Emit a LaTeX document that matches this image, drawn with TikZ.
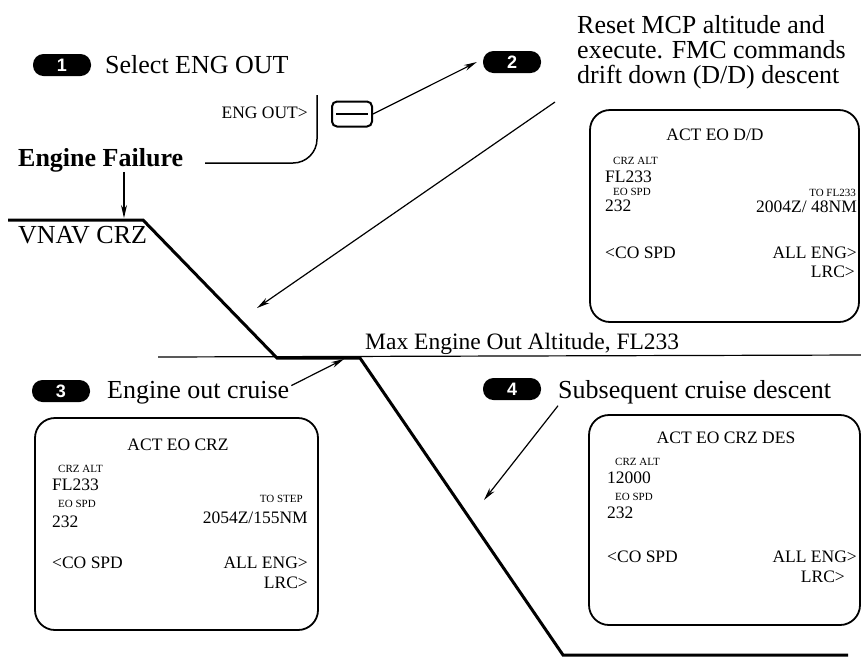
\documentclass[tikz,border=0pt]{standalone}
\usepackage{fontspec}
\setmainfont{Liberation Serif}
\newfontfamily\badgefont{Liberation Sans}
\usetikzlibrary{arrows.meta}

\tikzset{
  pill/.style={fill=black, rounded corners=10.5pt, minimum width=58pt, minimum height=22pt,
    inner sep=0pt, text=white, font=\badgefont\bfseries\fontsize{18}{18}\selectfont},
  steplabel/.style={anchor=base west, inner sep=0pt, font=\fontsize{26}{25}\selectfont},
  cdu/.style={draw, line width=1.8pt, rounded corners=20pt, inner sep=0pt},
  cdubig/.style={inner sep=0pt, font=\fontsize{17.5}{18}\selectfont},
  cdusmall/.style={inner sep=0pt, font=\fontsize{11}{12}\selectfont},
  callout/.style={line width=1.2pt, -{Stealth[length=13pt,width=6pt]}},
}

\begin{document}
\begin{tikzpicture}[x=1pt,y=-1pt]
  \useasboundingbox (0,0) rectangle (861,657);

  % step badges and their texts
  \node[pill] (b1) at (62,65) {1};
  \node[pill] (b2) at (512,62) {2};
  \node[pill] (b3) at (61,391) {3};
  \node[pill] (b4) at (512,389) {4};
  \node[steplabel] (s1) at (105,73) {Select ENG OUT};
  \node[steplabel, anchor=north west, align=left] (s2) at (577,15)
    {Reset MCP altitude and\\execute. FMC commands\\drift down (D/D) descent};
  \node[steplabel] (s3) at (107,398) {Engine out cruise};
  \node[steplabel] (s4) at (558,398) {Subsequent cruise descent};
  \node[steplabel] (fail) at (18,166) {\bfseries Engine Failure};
  \node[steplabel] (vnav) at (18,243) {VNAV CRZ};
  \node[steplabel, font=\fontsize{23.5}{24}\selectfont] (maxalt) at (365,349)
    {Max Engine Out Altitude, FL233};

  % flight profile
  \draw[line width=3pt] (8,220) -- (143,220) -- (277,358) -- (360,358) -- (563,655) -- (848,655);
  \draw[line width=1.2pt] (158,357) -- (861,355);

  % ENG OUT line select key
  \node[cdubig, anchor=base east] (engout) at (308,118) {ENG OUT>};
  \draw[line width=1.5pt, rounded corners=24pt] (317,95) -- (317,163) -- (205,163);
  \node[draw, line width=2pt, rounded corners=5pt, minimum width=40pt, minimum height=25pt,
    inner sep=0pt] (lsk) at (352,114) {};
  \draw[line width=1.5pt] ([xshift=5pt]lsk.west) -- ([xshift=-5pt]lsk.east);

  % callouts
  \coordinate (failpt) at (124,218);
  \coordinate (ddtail) at (555,102);
  \coordinate (ddtip) at (257,308);
  \coordinate (eocpt) at (344,359);
  \coordinate (subpt) at (484,500);
  \draw[callout] (fail.south -| failpt) -- (failpt);
  \draw[callout] (lsk.east) -- ([xshift=-6pt]b2.west);
  \draw[callout] (ddtail) -- (ddtip);
  \draw[callout] ([xshift=2pt,yshift=-5pt]s3.north east) -- (eocpt);
  \draw[callout] ([yshift=-2pt]s4.south west) -- (subpt);

  % CDU page: drift down
  \node[cdu, minimum width=269pt, minimum height=212pt] (dd) at (724.5,216) {};
  \node[cdubig, anchor=base] (ddtitle) at (715,140) {ACT EO D/D};
  \node[cdusmall, anchor=base west] (ddcrz) at (613,164) {CRZ ALT};
  \node[cdubig, anchor=base west] (ddalt) at (605,182) {FL233};
  \node[cdusmall, anchor=base west] (ddeo) at (613,195) {EO SPD};
  \node[cdubig, anchor=base west] (ddspd) at (605,211) {232};
  \node[cdusmall, anchor=base east] (ddto) at (856,196) {TO FL233};
  \node[cdubig, anchor=base east] (ddeta) at (857,212) {2004Z/ 48NM};
  \node[cdubig, anchor=base west] (ddco) at (605,258) {<CO SPD};
  \node[cdubig, anchor=base east] (ddall) at (857,258) {ALL ENG>};
  \node[cdubig, anchor=base east] (ddlrc) at (855,277) {LRC>};

  % CDU page: engine out cruise
  \node[cdu, minimum width=283pt, minimum height=212pt] (crz) at (176.5,524) {};
  \node[cdubig, anchor=base] (crztitle) at (178,450) {ACT EO CRZ};
  \node[cdusmall, anchor=base west] (crzcrz) at (58,472) {CRZ ALT};
  \node[cdubig, anchor=base west] (crzalt) at (52,490) {FL233};
  \node[cdusmall, anchor=base west] (crzeo) at (58,507) {EO SPD};
  \node[cdubig, anchor=base west] (crzspd) at (52,527) {232};
  \node[cdusmall, anchor=base east] (crzto) at (303,502) {TO STEP};
  \node[cdubig, anchor=base east] (crzeta) at (308,523) {2054Z/155NM};
  \node[cdubig, anchor=base west] (crzco) at (52,568) {<CO SPD};
  \node[cdubig, anchor=base east] (crzall) at (308,568) {ALL ENG>};
  \node[cdubig, anchor=base east] (crzlrc) at (308,588) {LRC>};

  % CDU page: cruise descent
  \node[cdu, minimum width=271pt, minimum height=210pt] (des) at (724.5,520) {};
  \node[cdubig, anchor=base] (destitle) at (726,443) {ACT EO CRZ DES};
  \node[cdusmall, anchor=base west] (descrz) at (615,465) {CRZ ALT};
  \node[cdubig, anchor=base west] (desalt) at (607,483) {12000};
  \node[cdusmall, anchor=base west] (deseo) at (615,500) {EO SPD};
  \node[cdubig, anchor=base west] (desspd) at (607,518) {232};
  \node[cdubig, anchor=base west] (desco) at (607,562) {<CO SPD};
  \node[cdubig, anchor=base east] (desall) at (857,562) {ALL ENG>};
  \node[cdubig, anchor=base east] (deslrc) at (845,582) {LRC>};
\end{tikzpicture}
\end{document}
